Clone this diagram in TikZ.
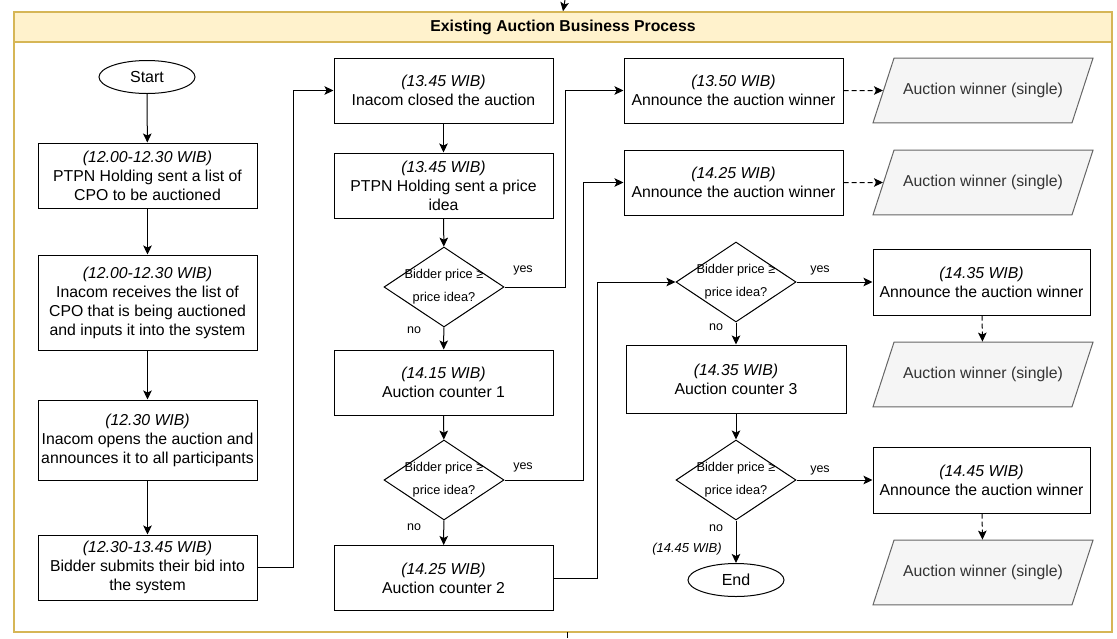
\documentclass[tikz,border=0pt]{standalone}
\usepackage{fontspec}
\setmainfont{Liberation Sans}
\usepackage{xcolor}
\usetikzlibrary{shapes,arrows,arrows.meta}
\definecolor{frameline}{HTML}{D6B656}
\definecolor{framefill}{HTML}{FFF2CC}
\definecolor{datafill}{HTML}{F5F5F5}
\definecolor{dataline}{HTML}{666666}
\tikzset{process/.style = {shape=rectangle,draw,line width=1pt,minimum width=219pt,minimum height=65pt,align=center,inner sep=1pt,font=\fontsize{15.8}{19}\selectfont}}
\tikzset{terminal/.style = {shape=ellipse,draw,line width=1pt,minimum width=96pt,minimum height=33pt,inner sep=1pt,font=\fontsize{16}{19}\selectfont}}
\tikzset{decision/.style = {shape=diamond,draw,line width=1pt,minimum width=120pt,minimum height=80pt,inner sep=0pt}}
\tikzset{dtext/.style = {align=center,inner sep=0pt,font=\fontsize{12.8}{23}\selectfont}}
\tikzset{data/.style = {trapezium,trapezium left angle=72,trapezium right angle=108,trapezium stretches body=true,draw=dataline,fill=datafill,text=black!80,line width=1pt,minimum width=220pt,inner xsep=1pt,inner ysep=25pt,font=\fontsize{15.8}{19}\selectfont}}
\tikzset{edge/.style = {-{Stealth[length=9pt,width=8.5pt,inset=2pt]},line width=1pt}}
\tikzset{link/.style = {-{Stealth[length=9pt,width=8.5pt,inset=2pt]},line width=1pt,dash pattern=on 5pt off 3pt}}
\tikzset{lbl/.style = {font=\fontsize{12.5}{15}\selectfont,inner sep=1pt}}

\begin{document}
\begin{tikzpicture}[x=1pt,y=-1pt]
		\useasboundingbox (0,0) rectangle (1117,638);
		% frame
		\draw[frameline,line width=1.5pt] (14,12) rectangle (1112,632);
		\node[draw=frameline,fill=framefill,line width=1.5pt,minimum width=1098pt,minimum height=30pt,font=\bfseries\fontsize{15.8}{19}\selectfont] (head) at (563,27) {Existing Auction Business Process};
		\coordinate (in) at (565,0);
		\coordinate (out) at (567,638);
		\coordinate (bottom) at (567,632);
		% column 1
		\node[terminal] (start) at (147,77) {Start};
		\node[process] (s1) at (147.5,175.5) {\textit{(12.00-12.30 WIB)}\\PTPN Holding sent a list of\\CPO to be auctioned};
		\node[process,minimum height=95pt] (s2) at (147.5,302.5) {\textit{(12.00-12.30 WIB)}\\Inacom receives the list of\\CPO that is being auctioned\\and inputs it into the system};
		\node[process,minimum height=80pt] (s3) at (147.5,440) {\textit{(12.30 WIB)}\\Inacom opens the auction and\\announces it to all participants};
		\node[process] (s4) at (147.5,567.5) {\textit{(12.30-13.45 WIB)}\\Bidder submits their bid into\\the system};
		% column 2
		\node[process] (close) at (443.5,90.5) {\textit{(13.45 WIB)}\\Inacom closed the auction};
		\node[process] (idea) at (443.5,185.5) {\textit{(13.45 WIB)}\\PTPN Holding sent a price\\idea};
		\node[decision] (q1) at (444,287) {};
		\node[dtext] (q1t) at (q1) {Bidder price ≥\\price idea?};
		\node[process] (c1) at (443.5,382.5) {\textit{(14.15 WIB)}\\Auction counter 1};
		\node[decision] (q2) at (444,480) {};
		\node[dtext] (q2t) at (q2) {Bidder price ≥\\price idea?};
		\node[process] (c2) at (443.5,578) {\textit{(14.25 WIB)}\\Auction counter 2};
		% column 3
		\node[process] (w1) at (733.5,90.5) {\textit{(13.50 WIB)}\\Announce the auction winner};
		\node[process] (w2) at (733.5,182.5) {\textit{(14.25 WIB)}\\Announce the auction winner};
		\node[decision] (q3) at (736,282) {};
		\node[dtext] (q3t) at (q3) {Bidder price ≥\\price idea?};
		\node[process,minimum width=220pt,minimum height=68pt] (c3) at (736,379) {\textit{(14.35 WIB)}\\Auction counter 3};
		\node[decision] (q4) at (736,480) {};
		\node[dtext] (q4t) at (q4) {Bidder price ≥\\price idea?};
		\node[terminal] (end) at (736,580) {End};
		% column 4
		\node[data] (r1) at (983,90.5) {Auction winner (single)};
		\node[data] (r2) at (983,182.5) {Auction winner (single)};
		\node[process,minimum width=217pt,minimum height=66pt] (w3) at (981.5,282) {\textit{(14.35 WIB)}\\Announce the auction winner};
		\node[data] (r3) at (983,374.5) {Auction winner (single)};
		\node[process,minimum width=217pt,minimum height=66pt] (w4) at (981.5,480) {\textit{(14.45 WIB)}\\Announce the auction winner};
		\node[data] (r4) at (983,572.5) {Auction winner (single)};
		% labels
		\node[lbl] (yes1) at (523,270) {yes};
		\node[lbl] (no1) at (414,330) {no};
		\node[lbl] (yes2) at (523,467) {yes};
		\node[lbl] (no2) at (414,527) {no};
		\node[lbl] (yes3) at (820,270) {yes};
		\node[lbl] (no3) at (716,327) {no};
		\node[lbl] (yes4) at (820,470) {yes};
		\node[lbl] (no4) at (716,528) {no};
		\node[lbl,font=\itshape\fontsize{13}{15}\selectfont] (t4) at (687,549) {(14.45 WIB)};
		%edges
		\draw[edge] (in) to (head.north);
		\draw[line width=1pt] (bottom) to (out);
		\draw[edge] (start) to (s1);
		\draw[edge] (s1) to (s2);
		\draw[edge] (s2) to (s3);
		\draw[edge] (s3) to (s4);
		\draw[edge] (s4.east) -- ++(36,0) |- (close.west);
		\draw[edge] (close) to (idea);
		\draw[edge] (idea) to (q1);
		\draw[edge] (q1.east) -- ++(61,0) |- (w1.west);
		\draw[edge] (q1) to (c1);
		\draw[edge] (c1) to (q2);
		\draw[edge] (q2.east) -- ++(79,0) |- (w2.west);
		\draw[edge] (q2) to (c2);
		\draw[edge] (c2.east) -- ++(44,0) |- (q3.west);
		\draw[edge] (q3) to (w3);
		\draw[edge] (q3) to (c3);
		\draw[edge] (c3) to (q4);
		\draw[edge] (q4) to (w4);
		\draw[edge] (q4) to (end);
		\draw[link] (w1) to (r1);
		\draw[link] (w2) to (r2);
		\draw[link] (w3) to (r3);
		\draw[link] (w4) to (r4);
	\end{tikzpicture}
\end{document}
